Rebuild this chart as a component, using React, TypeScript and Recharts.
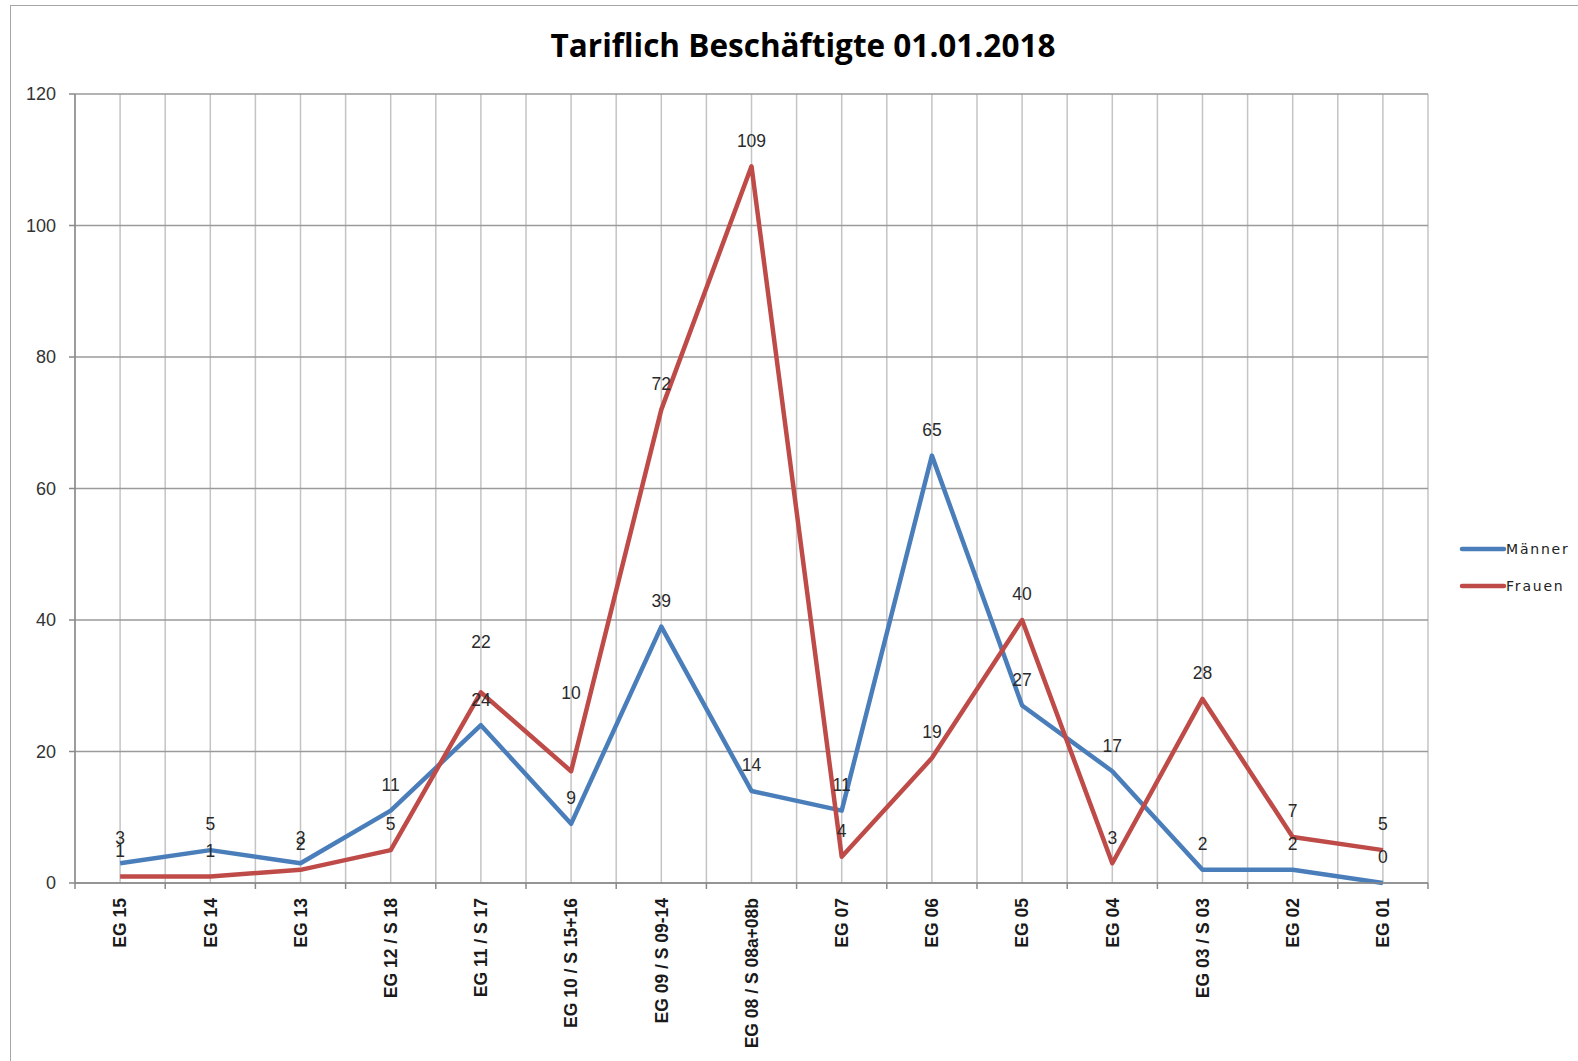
import React from "react";
import { LineChart, Line, XAxis, YAxis, CartesianGrid, LabelList } from "recharts";

const categories = [
  "EG 15", "EG 14", "EG 13", "EG 12 / S 18", "EG 11 / S 17", "EG 10 / S 15+16",
  "EG 09 / S 09-14", "EG 08 / S 08a+08b", "EG 07", "EG 06", "EG 05", "EG 04",
  "EG 03 / S 03", "EG 02", "EG 01",
];
const maenner = [3, 5, 3, 11, 24, 9, 39, 14, 11, 65, 27, 17, 2, 2, 0];
const frauen = [1, 1, 2, 5, 29, 17, 72, 109, 4, 19, 40, 3, 28, 7, 5];
const maennerLabels = ["3", "5", "3", "11", "24", "9", "39", "14", "11", "65", "27", "17", "2", "2", "0"];
const frauenLabels = ["1", "1", "2", "5", "22", "10", "72", "109", "4", "19", "40", "3", "28", "7", "5"];
const yTicks = [0, 20, 40, 60, 80, 100, 120];
const seriesNames = ["Männer", "Frauen"];
const title = "Tariflich Beschäftigte 01.01.2018";

// style: manually moved labels (pixel nudges)
const frauenLabelNudge = [0, 0, 0, 0, -25, -53, 0, 0, 0, 0, 0, 0, 0, 0, 0];
const maennerLabelNudge = [0, 0, 0, 0, 0, 0, 0, 0, 0, 0, 0, 0, 0, 0, 0];

const data = categories.map((c, i) => ({
  name: c,
  maenner: maenner[i],
  frauen: frauen[i],
  mLabel: maennerLabels[i],
  fLabel: frauenLabels[i],
}));

const W = 1578;
const H = 1061;
const M = { top: 94, right: 150, bottom: 8, left: 15 };
const Y_W = 60;
const X_H = 170;
const PLOT_L = M.left + Y_W;
const PLOT_R = W - M.right;
const PLOT_B = H - M.bottom - X_H;
const PLOT_W = PLOT_R - PLOT_L;
const STEP = PLOT_W / categories.length;

const BLUE = "#4A7EBB";
const RED = "#BE4B48";
const COLORS = [BLUE, RED];
const NUM_FONT = "'Liberation Sans', Arial, sans-serif";

const XTick = (props: any) => {
  const { x, payload, index } = props;
  const n = categories.length;
  return (
    <g>
      <line x1={x - STEP / 2} x2={x - STEP / 2} y1={PLOT_B} y2={PLOT_B + 6} stroke="#8a8a8a" strokeWidth={1.5} />
      {index === n - 1 && (
        <line x1={x + STEP / 2} x2={x + STEP / 2} y1={PLOT_B} y2={PLOT_B + 6} stroke="#8a8a8a" strokeWidth={1.5} />
      )}
      <text
        x={x}
        y={PLOT_B + 15}
        transform={`rotate(-90, ${x}, ${PLOT_B + 15})`}
        textAnchor="end"
        dy="0.36em"
        fontFamily={NUM_FONT}
        fontSize={17.5}
        fontWeight="bold"
        fill="#1a1a1a"
      >
        {payload.value}
      </text>
    </g>
  );
};

const makeLabel = (nudges: number[]) => (p: any) => {
  const idx = typeof p.index === "number" ? p.index : 0;
  return (
    <text
      x={p.x}
      y={p.y - 26 + (nudges[idx] || 0)}
      dy="0.36em"
      textAnchor="middle"
      fontFamily={NUM_FONT}
      fontSize={17.5}
      fill="#2a2a2a"
    >
      {p.value}
    </text>
  );
};

const vGen = () => {
  const pts: number[] = [];
  for (let i = 0; i <= categories.length * 2; i++) pts.push(PLOT_L + (i * STEP) / 2);
  return pts;
};

export default function App() {
  return (
    <div style={{ position: "absolute", left: 0, top: 0, width: W, height: H, overflow: "hidden", background: "#fff" }}>
      <div
        style={{
          position: "absolute",
          left: 10,
          top: 5,
          width: W + 40,
          height: H + 40,
          border: "1.5px solid #a6a6a6",
          boxSizing: "border-box",
        }}
      />
      <div
        style={{
          position: "absolute",
          left: 0,
          top: 22,
          width: 1606,
          textAlign: "center",
          fontFamily: "'Open Sans', sans-serif",
          fontWeight: 700,
          fontSize: 31.5,
          color: "#000",
          lineHeight: "46px",
        }}
      >
        {title}
      </div>
      <div style={{ position: "absolute", left: 0, top: 0 }}>
        <LineChart width={W} height={H} data={data} margin={M}>
          <CartesianGrid horizontal={false} vertical={true} stroke="#c4c4c4" strokeWidth={1.5} verticalCoordinatesGenerator={vGen} />
          <CartesianGrid horizontal={true} vertical={false} stroke="#9a9a9a" strokeWidth={1.5} />
          <XAxis
            dataKey="name"
            type="category"
            interval={0}
            height={X_H}
            padding={{ left: STEP / 2, right: STEP / 2 }}
            tick={<XTick />}
            tickLine={false}
            axisLine={{ stroke: "#8a8a8a", strokeWidth: 1.5 }}
          />
          <YAxis
            width={Y_W}
            domain={[0, 120]}
            ticks={yTicks}
            interval={0}
            tickSize={6}
            tickMargin={13}
            tickLine={{ stroke: "#8a8a8a", strokeWidth: 1.5 }}
            axisLine={{ stroke: "#8a8a8a", strokeWidth: 1.5 }}
            tick={{ fontFamily: NUM_FONT, fontSize: 18, fill: "#333" }}
          />
          <Line
            type="linear"
            dataKey="maenner"
            name={seriesNames[0]}
            stroke={BLUE}
            strokeWidth={4.5}
            strokeLinejoin="round"
            dot={false}
            activeDot={false}
            isAnimationActive={false}
          >
            <LabelList dataKey="mLabel" content={makeLabel(maennerLabelNudge)} />
          </Line>
          <Line
            type="linear"
            dataKey="frauen"
            name={seriesNames[1]}
            stroke={RED}
            strokeWidth={4.5}
            strokeLinejoin="round"
            dot={false}
            activeDot={false}
            isAnimationActive={false}
          >
            <LabelList dataKey="fLabel" content={makeLabel(frauenLabelNudge)} />
          </Line>
        </LineChart>
      </div>
      <div
        style={{
          position: "absolute",
          left: 1458,
          top: 530,
          fontFamily: "'DejaVu Sans', Verdana, sans-serif",
          fontSize: 14,
          color: "#222",
        }}
      >
        {seriesNames.map((n, i) => (
          <div key={n} style={{ display: "flex", alignItems: "center", height: 37 }}>
            <svg width={50} height={10} style={{ display: "block" }}>
              <line x1={4} x2={46} y1={5} y2={5} stroke={COLORS[i]} strokeWidth={4.5} strokeLinecap="round" />
            </svg>
            <span style={{ letterSpacing: 1.8, marginLeft: -2 }}>{n}</span>
          </div>
        ))}
      </div>
    </div>
  );
}
